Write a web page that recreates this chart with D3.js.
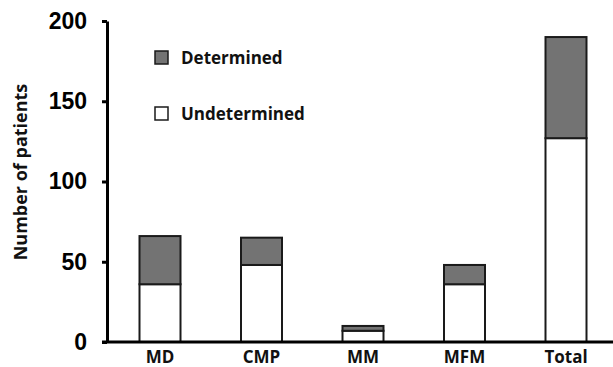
<!DOCTYPE html>
<html>
<head>
<meta charset="utf-8">
<script src="https://cdn.jsdelivr.net/npm/d3@7"></script>
<style>
  html, body { margin: 0; padding: 0; background: #fff; }
  svg { display: block; }
</style>
</head>
<body>
<svg id="chart" width="613" height="367"></svg>
<script>
const categories = ["MD", "CMP", "MM", "MFM", "Total"];
const undetermined = [36, 48, 7, 36, 127];
const determined = [30, 17, 3, 12, 63];
const yTicks = [0, 50, 100, 150, 200];
const seriesNames = ["Determined", "Undetermined"];

const W = 613, H = 367;
const svg = d3.select("#chart");
const axisX = 107, baseY = 342, topY = 21;

const y = d3.scaleLinear().domain([0, 200]).range([baseY, topY]);
const x = d3.scalePoint().domain(categories).range([160, 566]);
const barW = 41;

const data = categories.map((c, i) => ({ cat: c, u: undetermined[i], d: determined[i] }));

// bars
const g = svg.append("g");
g.selectAll("rect.und").data(data).enter().append("rect")
  .attr("x", d => x(d.cat) - barW / 2)
  .attr("y", d => y(d.u))
  .attr("width", barW)
  .attr("height", d => y(0) - y(d.u))
  .attr("fill", "#ffffff").attr("stroke", "#1a1a1a").attr("stroke-width", 2);
g.selectAll("rect.det").data(data).enter().append("rect")
  .attr("x", d => x(d.cat) - barW / 2)
  .attr("y", d => y(d.u + d.d))
  .attr("width", barW)
  .attr("height", d => y(d.u) - y(d.u + d.d))
  .attr("fill", "#737373").attr("stroke", "#1a1a1a").attr("stroke-width", 2);

// y axis
const yAxis = d3.axisLeft(y).tickValues(yTicks).tickSize(5).tickSizeOuter(0).tickPadding(15);
const ya = svg.append("g").attr("transform", `translate(${axisX},0)`).call(yAxis);
ya.select(".domain").attr("stroke", "#000").attr("stroke-width", 3);
ya.selectAll(".tick line").attr("stroke", "#000").attr("stroke-width", 3);
ya.selectAll(".tick text")
  .attr("fill", "#000")
  .style("font-family", "'Liberation Sans', Arial, sans-serif")
  .style("font-weight", "bold")
  .style("font-size", "23px");

// x axis line
svg.append("line")
  .attr("x1", axisX - 5).attr("x2", W)
  .attr("y1", baseY).attr("y2", baseY)
  .attr("stroke", "#000").attr("stroke-width", 3);

// category labels
svg.selectAll("text.cat").data(categories).enter().append("text")
  .attr("x", d => x(d)).attr("y", 363)
  .attr("text-anchor", "middle")
  .style("font-family", "'Open Sans', sans-serif")
  .style("font-weight", "bold")
  .style("font-size", "17px")
  .attr("fill", "#111")
  .text(d => d);

// y label
svg.append("text")
  .attr("transform", `translate(27,172) rotate(-90)`)
  .attr("text-anchor", "middle")
  .style("font-family", "'Open Sans', sans-serif")
  .style("font-weight", "bold")
  .style("font-size", "18px")
  .attr("fill", "#111")
  .text("Number of patients");

// legend
const legend = [
  { name: seriesNames[0], fill: "#737373", y: 51 },
  { name: seriesNames[1], fill: "#ffffff", y: 107 }
];
const lg = svg.selectAll("g.leg").data(legend).enter().append("g");
lg.append("rect")
  .attr("x", 155).attr("y", d => d.y)
  .attr("width", 13).attr("height", 13)
  .attr("fill", d => d.fill).attr("stroke", "#1a1a1a").attr("stroke-width", 1.5);
lg.append("text")
  .attr("x", 181).attr("y", d => d.y + 13)
  .style("font-family", "'Open Sans', sans-serif")
  .style("font-weight", "bold")
  .style("font-size", "17px")
  .attr("fill", "#111")
  .text(d => d.name);
</script>
</body>
</html>
